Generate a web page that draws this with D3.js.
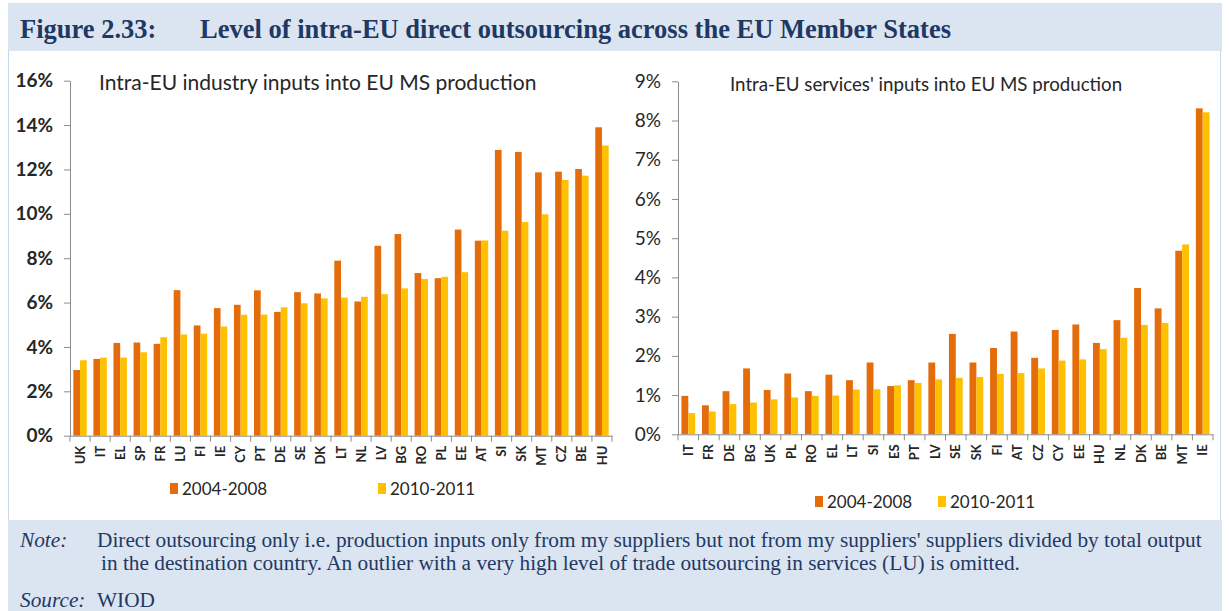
<!DOCTYPE html>
<html>
<head>
<meta charset="utf-8">
<script src="https://cdn.jsdelivr.net/npm/d3@7"></script>
<style>
  body { margin: 0; background: #fff; }
  svg text { font-family: Lato, "Open Sans", sans-serif; fill: #262626; }
  .serif { font-family: "Liberation Serif", "Times New Roman", serif; fill: #1f3864; }
  .axis path, .axis line { stroke: #8c8c8c; }
</style>
</head>
<body>
<svg id="fig" width="1229" height="611"></svg>
<script>
// industry inputs panel (% of output)
var indCats = ["UK","IT","EL","SP","FR","LU","FI","IE","CY","PT","DE","SE","DK","LT","NL","LV","BG","RO","PL","EE","AT","SI","SK","MT","CZ","BE","HU"];
var ind0408 = [2.96,3.46,4.18,4.20,4.14,6.56,4.97,5.75,5.90,6.55,5.58,6.47,6.41,7.89,6.05,8.56,9.09,7.33,7.10,9.29,8.79,12.88,12.79,11.87,11.90,12.02,13.90];
var ind1011 = [3.40,3.52,3.52,3.76,4.44,4.56,4.60,4.92,5.45,5.46,5.79,5.97,6.19,6.22,6.26,6.38,6.64,7.06,7.16,7.37,8.80,9.24,9.63,9.98,11.53,11.72,13.08];
var indTicks = [0,2,4,6,8,10,12,14,16];

// services inputs panel (% of output)
var svcCats = ["IT","FR","DE","BG","UK","PL","RO","EL","LT","SI","ES","PT","LV","SE","SK","FI","AT","CZ","CY","EE","HU","NL","DK","BE","MT","IE"];
var svc0408 = [0.98,0.74,1.10,1.68,1.13,1.55,1.10,1.52,1.38,1.83,1.23,1.38,1.83,2.56,1.83,2.20,2.62,1.95,2.66,2.80,2.33,2.91,3.73,3.21,4.68,8.31];
var svc1011 = [0.54,0.58,0.77,0.81,0.89,0.94,0.98,0.99,1.14,1.15,1.25,1.31,1.40,1.44,1.46,1.54,1.56,1.68,1.88,1.91,2.17,2.46,2.79,2.84,4.84,8.21];
var svcTicks = [0,1,2,3,4,5,6,7,8,9];

var seriesNames = ["2004-2008","2010-2011"];
var seriesColors = ["#E46C0A","#FFC000"];

var svg = d3.select("#fig");

// frame: header band, white body, note band
svg.append("rect").attr("x",8).attr("y",3).attr("width",1214).attr("height",48).attr("fill","#dbe5f1");
svg.append("rect").attr("x",8).attr("y",520).attr("width",1214).attr("height",91).attr("fill","#dbe5f1");
svg.append("line").attr("x1",8.5).attr("x2",8.5).attr("y1",51).attr("y2",520).attr("stroke","#c9d7ea");
svg.append("line").attr("x1",1220.5).attr("x2",1220.5).attr("y1",51).attr("y2",520).attr("stroke","#c9d7ea");

svg.append("text").attr("class","serif").attr("x",20).attr("y",38)
  .attr("font-size",26.5).attr("font-weight","bold").text("Figure 2.33:");
svg.append("text").attr("class","serif").attr("x",200).attr("y",38)
  .attr("font-size",26.5).attr("font-weight","bold")
  .text("Level of intra-EU direct outsourcing across the EU Member States");

var note = svg.append("g").attr("font-size",21.3);
note.append("text").attr("class","serif").attr("x",20).attr("y",547).attr("font-style","italic").text("Note:");
note.append("text").attr("class","serif").attr("x",97).attr("y",547)
  .text("Direct outsourcing only i.e. production inputs only from my suppliers but not from my suppliers' suppliers divided by total output");
note.append("text").attr("class","serif").attr("x",101).attr("y",570)
  .text("in the destination country. An outlier with a very high level of trade outsourcing in services (LU) is omitted.");
note.append("text").attr("class","serif").attr("x",20).attr("y",607).attr("font-style","italic").text("Source:");
note.append("text").attr("class","serif").attr("x",97).attr("y",607).text("WIOD");

function panel(cfg) {
  var g = svg.append("g");

  var x = d3.scaleBand().domain(cfg.cats).range([cfg.x0, cfg.x1]).padding(0);
  var y = d3.scaleLinear().domain([0, cfg.max]).range([cfg.y0, cfg.y1]);
  var sub = d3.scaleBand().domain([0,1]).range([0, x.bandwidth()]).paddingOuter(0.5);

  [cfg.a, cfg.b].forEach(function(vals, si) {
    g.selectAll(null)
      .data(cfg.cats)
      .enter().append("rect")
      .attr("x", function(c) { return x(c) + sub(si); })
      .attr("width", sub.bandwidth())
      .attr("y", function(c, i) { return y(vals[i]); })
      .attr("height", function(c, i) { return cfg.y0 - y(vals[i]); })
      .attr("fill", seriesColors[si]);
  });

  var ya = g.append("g")
    .attr("class","axis")
    .attr("transform","translate(" + cfg.x0 + ",0)")
    .call(d3.axisLeft(y).tickValues(cfg.ticks).tickFormat(function(d) { return d + "%"; })
      .tickSize(6).tickSizeOuter(0).tickPadding(cfg.yPad));
  ya.attr("font-family", null).attr("font-size", null);
  ya.selectAll("text").attr("font-size", cfg.ySize).attr("font-weight", cfg.yWeight);

  var xa = g.append("g")
    .attr("class","axis")
    .attr("transform","translate(0," + cfg.y0 + ")")
    .call(d3.axisBottom(x).tickSize(0).tickSizeOuter(0));
  xa.attr("font-family", null).attr("font-size", null);
  xa.selectAll("text")
    .attr("transform","rotate(-90)")
    .attr("text-anchor","end")
    .attr("x", -10).attr("y", 0).attr("dy","0.35em")
    .attr("font-size", 13).attr("font-weight", 700);

  // tick marks between categories
  xa.selectAll(".sep")
    .data(cfg.cats.concat([null]))
    .enter().append("line")
    .attr("class","sep")
    .attr("x1", function(c) { return c ? x(c) : cfg.x1; })
    .attr("x2", function(c) { return c ? x(c) : cfg.x1; })
    .attr("y1", 0).attr("y2", 6);

  g.append("text")
    .attr("x", cfg.titleX).attr("y", cfg.titleY)
    .attr("font-size", cfg.titleSize)
    .text(cfg.title);

  var lg = g.selectAll(".lg")
    .data(seriesNames)
    .enter().append("g")
    .attr("transform", function(d, i) { return "translate(" + cfg.legX[i] + "," + cfg.legY + ")"; });
  lg.append("rect").attr("x",0).attr("y",-6).attr("width",8).attr("height",11)
    .attr("fill", function(d, i) { return seriesColors[i]; });
  lg.append("text").attr("x",12).attr("y",0).attr("dy","0.35em")
    .attr("font-size", cfg.legSize).text(function(d) { return d; });
}

panel({
  cats: indCats, a: ind0408, b: ind1011, max: 16, ticks: indTicks,
  x0: 70, x1: 612, y0: 435.7, y1: 80.7,
  yPad: 11, ySize: 19, yWeight: 700,
  title: "Intra-EU industry inputs into EU MS production", titleX: 99, titleY: 90, titleSize: 21,
  legX: [170, 378], legY: 489, legSize: 17
});

panel({
  cats: svcCats, a: svc0408, b: svc1011, max: 9, ticks: svcTicks,
  x0: 678, x1: 1213, y0: 434.3, y1: 81.3,
  yPad: 11, ySize: 19, yWeight: 400,
  title: "Intra-EU services' inputs into EU MS production", titleX: 730, titleY: 91, titleSize: 18.7,
  legX: [815, 938], legY: 502, legSize: 17
});
</script>
</body>
</html>
